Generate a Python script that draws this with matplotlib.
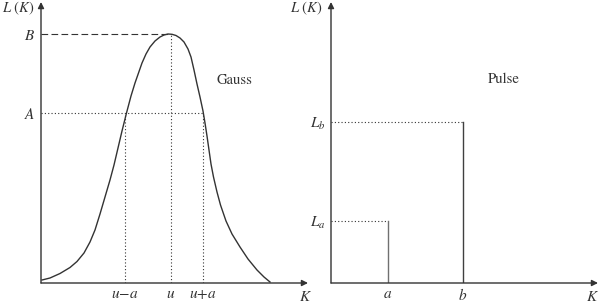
import matplotlib
matplotlib.use('Agg')
import matplotlib.pyplot as plt

plt.rcParams['mathtext.fontset'] = 'stix'
plt.rcParams['font.family'] = 'STIXGeneral'

# Data units: 1 unit = 10 px of the original picture
# Gauss curve
gauss_k = [0.1, 0.9, 1.9, 2.9, 3.6, 4.3, 4.9, 5.4, 5.9, 6.4, 6.9, 7.3, 7.7, 8.1, 8.55,
           9.0, 9.4, 9.75, 10.1, 10.5, 10.9, 11.4, 11.9, 12.3, 12.7, 13.1, 13.5,
           13.9, 14.3, 14.7, 15.0, 15.3, 15.6, 15.9, 16.2, 16.4, 16.6, 16.8, 17.0,
           17.25, 17.6, 17.95, 18.5, 19.1, 19.9, 20.7, 21.6, 22.3, 22.9]
gauss_l = [0.3, 0.5, 0.95, 1.55, 2.15, 3.0, 4.1, 5.3, 6.9, 8.6, 10.3, 11.8, 13.5, 15.2, 17.0,
           18.7, 20.0, 21.0, 22.0, 22.9, 23.6, 24.2, 24.6, 24.8, 24.9, 24.87, 24.75,
           24.5, 24.1, 23.4, 22.6, 21.3, 19.9, 18.6, 17.2, 16.0, 14.7, 13.3, 11.9,
           10.6, 9.1, 7.8, 6.2, 4.9, 3.6, 2.4, 1.3, 0.6, 0.1]
level_b = 24.9
level_a = 17.0
k_u = 13.0
k_lo = 8.4
k_hi = 16.2
gauss_ticks = [k_lo, k_u, k_hi]
gauss_tick_labels = [r'$u\!-\!a$', r'$u$', r'$u\!+\!a$']

# Pulse
pulse_a = 5.7
pulse_b = 13.2
level_la = 6.2
level_lb = 16.1

INK = '#333333'
DOT = (0, (1, 2))
W, H = 600, 307

fig = plt.figure(figsize=(W / 100, H / 100), dpi=100)


def px_axes(x0, y0, x1, y1):
    return fig.add_axes([x0 / W, (H - y0) / H, (x1 - x0) / W, (y0 - y1) / H])


def style_axes(ax):
    ax.set_xlim(0, 26.7)
    ax.set_ylim(0, 28.1)
    for s in ax.spines.values():
        s.set_visible(False)
    ax.tick_params(length=0, labelsize=11, colors=INK, pad=3)
    ax.tick_params(axis='y', pad=4)
    # axes with arrow heads
    arrow = dict(arrowstyle='-|>', color=INK, lw=1.0, mutation_scale=9,
                 shrinkA=0, shrinkB=0)
    ax.annotate('', xy=(1, 0), xytext=(0, 0), xycoords='axes fraction',
                arrowprops=arrow, annotation_clip=False)
    ax.annotate('', xy=(0, 1), xytext=(0, 0), xycoords='axes fraction',
                arrowprops=arrow, annotation_clip=False)


#%% Gauss panel
ax1 = px_axes(41, 283, 308, 2)
style_axes(ax1)
ax1.plot(gauss_k, gauss_l, color=INK, lw=1.0, clip_on=False)
ax1.plot([0, k_u], [level_b, level_b], color=INK, lw=0.8, ls=(0, (6, 3)))
ax1.plot([k_u, k_u], [0, level_b], color=INK, lw=0.8, ls=DOT)
ax1.plot([0, k_hi], [level_a, level_a], color=INK, lw=0.8, ls=DOT)
ax1.plot([k_lo, k_lo], [0, level_a], color=INK, lw=0.8, ls=DOT)
ax1.plot([k_hi, k_hi], [0, level_a], color=INK, lw=0.8, ls=DOT)
ax1.set_xticks(gauss_ticks, gauss_tick_labels)
ax1.set_yticks([level_a, level_b], [r'$A$', r'$B$'])
ax1.text(-3.9, 27.5, r'$L\ (K)$', ha='left', va='center', fontsize=10.5, color=INK)
ax1.text(26.5, -1.4, r'$K$', ha='center', va='center', fontsize=11, color=INK)
ax1.text(19.3, 20.3, 'Gauss', ha='center', va='center', fontsize=10.5, color=INK)

#%% Pulse panel
ax2 = px_axes(331, 283, 598, 2)
style_axes(ax2)
ax2.plot([0, pulse_a], [level_la, level_la], color=INK, lw=0.8, ls=DOT)
ax2.plot([pulse_a, pulse_a], [0, level_la], color='#707070', lw=1.0)
ax2.plot([0, pulse_b], [level_lb, level_lb], color=INK, lw=0.8, ls=DOT)
ax2.plot([pulse_b, pulse_b], [0, level_lb], color='#404040', lw=1.0)
ax2.set_xticks([pulse_a, pulse_b], [r'$a$', r'$b$'])
ax2.set_yticks([level_la, level_lb], [r'$L_a$', r'$L_b$'])
ax2.text(-0.8, 27.5, r'$L\ (K)$', ha='right', va='center', fontsize=10.5, color=INK)
ax2.text(26.2, -1.4, r'$K$', ha='center', va='center', fontsize=11, color=INK)
ax2.text(17.3, 20.4, 'Pulse', ha='center', va='center', fontsize=10.5, color=INK)

fig.savefig('out.png', dpi=100)
